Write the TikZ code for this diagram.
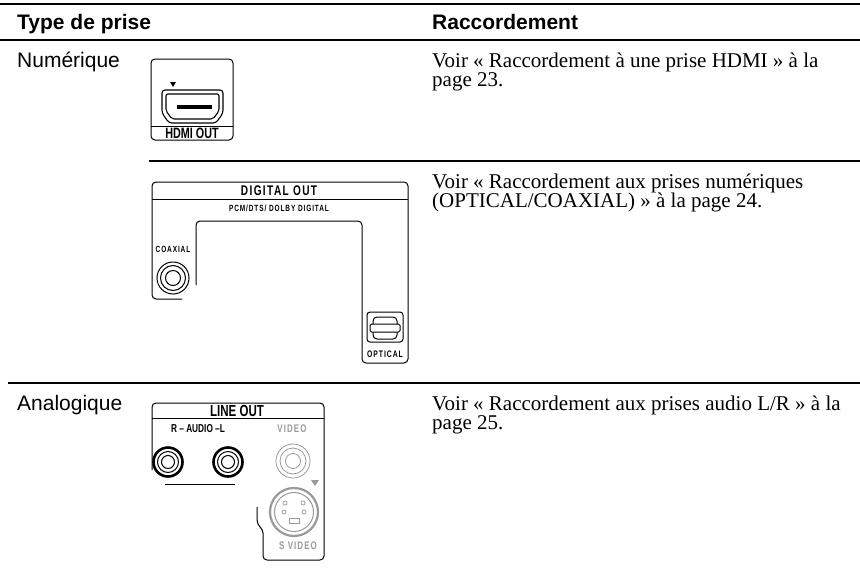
\documentclass[tikz,border=0pt]{standalone}
\usepackage{fontspec}
\setmainfont{Liberation Serif}
\setsansfont{Liberation Sans}
\newfontfamily\panelfont[FakeStretch=0.72]{Liberation Sans}
\newfontfamily\widepanelfont[FakeStretch=0.72, LetterSpace=10]{Liberation Sans}
\definecolor{jackgray}{gray}{0.6}
\tikzset{
	rule/.style={line width=2.6pt},
	hdr/.style={font=\sffamily\bfseries\fontsize{21}{23}\selectfont, anchor=base west, inner sep=0pt},
	kind/.style={font=\sffamily\fontsize{21}{23}\selectfont, anchor=base west, inner sep=0pt},
	desc/.style={font=\fontsize{21}{23}\selectfont, anchor=base west, inner sep=0pt},
	panel/.style={line width=1pt, rounded corners=4pt},
	plabel/.style={font=\panelfont\bfseries\fontsize{#1}{#1}\selectfont, inner sep=0pt},
	wlabel/.style={font=\widepanelfont\bfseries\fontsize{#1}{#1}\selectfont, inner sep=0pt},
	jack/.style={line width=1pt},
}

\begin{document}
\begin{tikzpicture}[x=1pt,y=-1pt]
		\useasboundingbox (0,0) rectangle (860,573);
		% table rules
		\draw[rule] (0,4) -- (860,4);
		\draw[rule] (0,40) -- (860,40);
		\draw[rule] (149,161) -- (860,161);
		\draw[rule] (8,383) -- (860,383);
		% header and row labels
		\node[hdr] 	(type) 	at (17,29) 	{Type de prise};
		\node[hdr] 	(conn) 	at (432,29) {Raccordement};
		\node[kind] (num) 	at (17,67) 	{Numérique};
		\node[kind] (ana) 	at (17,410) {Analogique};
		% descriptions
		\node[desc] (hdmi a) at (432,67) 	{Voir « Raccordement à une prise HDMI » à la};
		\node[desc] (hdmi b) at (432,86.5) 	{page 23.};
		\node[desc] (dig a) at (432,188) 	{Voir « Raccordement aux prises numériques};
		\node[desc] (dig b) at (432,207.5) 	{(OPTICAL/COAXIAL) » à la page 24.};
		\node[desc] (line a) at (432,410) 	{Voir « Raccordement aux prises audio L/R » à la};
		\node[desc] (line b) at (432,429.5) {page 25.};
		% HDMI OUT
		\draw[panel] (151,59) rectangle (233,140);
		\draw[line width=1pt] (151,126) -- (233,126);
		\node[plabel=15] (hdmi lbl) at (192,133) {HDMI OUT};
		\fill (170,82) -- (176,82) -- (173,87) -- cycle;
		\draw[line width=1.1pt, rounded corners=3pt] (162,90) -- (223,90) -- (223,113) -- (216,123) -- (169,123) -- (162,113) -- cycle;
		\draw[line width=1.1pt, rounded corners=2pt] (166,94) -- (219,94) -- (219,111) -- (213,119) -- (172,119) -- (166,111) -- cycle;
		\fill (177,105) rectangle (212,109);
		% DIGITAL OUT
		\draw[panel] (196,285) -- (196,221) -- (362,221) -- (362,363) -- (408,363) -- (408,182) -- (152,182) -- (152,299) -- (182,299);
		\draw[line width=1pt] (152,199) -- (408,199);
		\node[wlabel=14] (dig lbl) at (279,191) {DIGITAL OUT};
		\node[wlabel=9] (pcm lbl) at (279,208) {PCM/DTS/ DOLBY  DIGITAL};
		\node[wlabel=9] (coax lbl) at (173,249) {COAXIAL};
		\node[wlabel=9.5] (opt lbl) at (385,354) {OPTICAL};
		\draw[jack] (173,278) circle (16pt) circle (12.5pt) circle (7.5pt);
		\draw[line width=1pt, rounded corners=3pt] (367,312) rectangle (403,342);
		\draw[line width=1pt, rounded corners=4pt] (373,317) rectangle (397,339);
		\draw[line width=1pt, fill=white, rounded corners=1.5pt] (370,324) rectangle (400,332);
		% LINE OUT
		\draw[panel] (152,470) -- (152,403) -- (324,403) -- (324,560) -- (263,560) -- (263,537) .. controls (263,528) and (257,526) .. (257,516) -- (257,507);
		\draw[line width=1pt] (152,418) -- (324,418);
		\node[plabel=16] (line lbl) at (237,411) {LINE OUT};
		\node[plabel=11.5] (audio lbl) at (198,429) {R – AUDIO –L};
		\node[wlabel=11, text=jackgray] (video lbl) at (292,429) {VIDEO};
		\node[wlabel=11, text=jackgray] (svid lbl) at (298,546) {S VIDEO};
		\foreach \x in {168,228} {
			\draw[line width=2.6pt] (\x,462) circle (14.5pt);
			\draw[jack] (\x,462) circle (10.5pt) circle (6.5pt);
		}
		\draw[line width=1pt] (165,484) -- (235,484);
		\draw[jackgray, line width=0.8pt] (293,461) circle (17pt) circle (13pt) circle (7.5pt);
		\draw[jackgray, line width=2.2pt] (294,512) circle (24pt);
		\draw[jackgray, line width=1pt] (294,512) circle (19.5pt);
		\foreach \px/\py in {285/503, 303/503, 284/512, 304/512}
			\draw[jackgray, line width=0.7pt] (\px,\py) circle (2pt);
		\draw[jackgray, line width=0.8pt] (289,518) rectangle (299,523);
		\fill[jackgray] (311,480) -- (319,480) -- (315,486) -- cycle;
	\end{tikzpicture}
\end{document}
